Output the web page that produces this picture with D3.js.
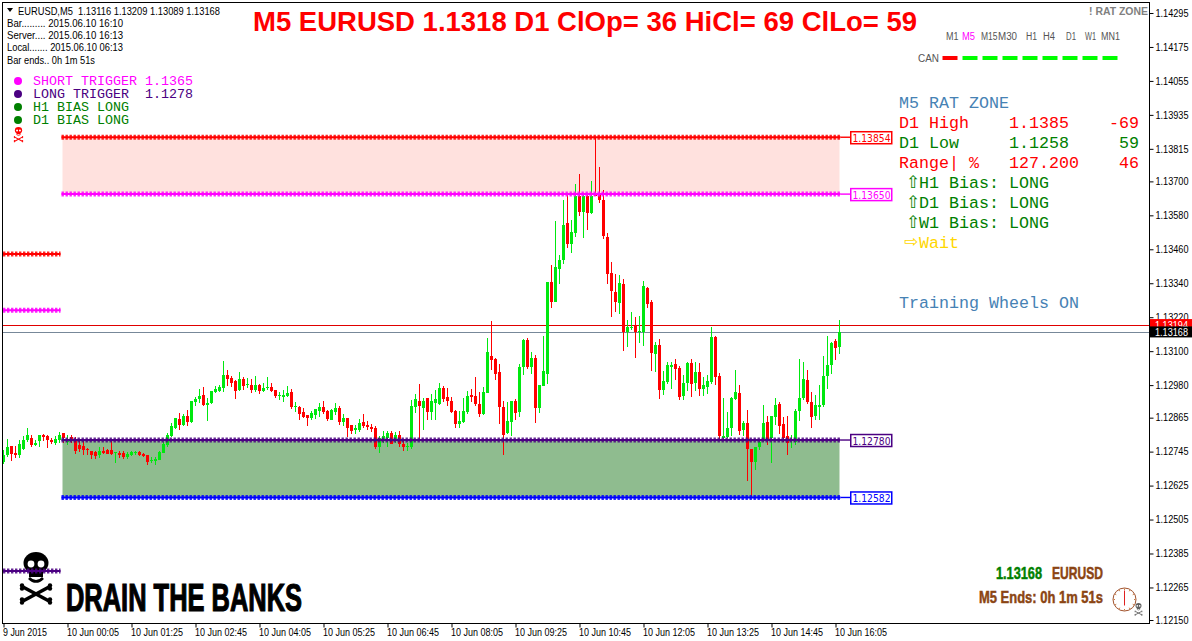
<!DOCTYPE html>
<html><head><meta charset="utf-8">
<script src="https://cdn.jsdelivr.net/npm/d3@7"></script>
<style>html,body{margin:0;padding:0;background:#fff;overflow:hidden}svg{display:block}text{white-space:pre}</style>
</head><body><svg id="c" width="1192" height="641"></svg>
<script>
// Prices in points (1e-5). One entry per 5-minute bar.
const opens=[112709,112733,112764,112741,112733,112756,112786,112793,112768,112782,
112803,112800,112786,112774,112786,112810,112780,112796,112786,112768,
112764,112754,112747,112743,112733,112747,112750,112750,112739,112740,
112740,112726,112733,112740,112743,112736,112733,112711,112711,112715,
112741,112768,112800,112828,112860,112839,112871,112850,112920,112931,
112945,112910,112917,112956,112959,112970,113016,113005,112994,112963,
113002,112980,112980,112963,112980,112959,112970,112973,112963,112941,
112938,112941,112956,112903,112903,112885,112874,112864,112874,112888,
112903,112888,112857,112885,112899,112850,112864,112839,112821,112821,
112849,112839,112832,112828,112761,112782,112793,112810,112786,112803,
112771,112761,112761,112902,112923,112899,112934,112885,112916,112913,
112969,112938,112923,112888,112842,112849,112885,112945,112941,112913,
112877,112952,113082,113072,113026,112902,112810,112849,112923,112885,
113044,113139,113044,113075,112899,112976,113019,113344,113273,113390,
113422,113552,113478,113517,113648,113591,113648,113588,113658,113655,
113634,113503,113376,113308,113270,113337,113167,113181,113188,113167,
113167,113323,113273,113089,113121,112962,112990,113043,113054,113040,
112941,112987,113058,112987,113028,112966,112973,112991,113150,113012,
112793,112796,112828,112930,112952,112821,112846,112754,112708,112761,
112786,112849,112793,112867,112913,112842,112800,112782,112779,112888,
112934,112998,112920,112870,112902,112909,113012,113051,113135,113116];
const highs=[112750,112788,112764,112764,112786,112800,112830,112803,112786,112803,
112809,112803,112794,112800,112814,112810,112803,112803,112796,112782,
112782,112759,112747,112747,112761,112761,112754,112782,112743,112747,
112747,112743,112747,112747,112747,112740,112733,112727,112727,112748,
112780,112812,112845,112864,112881,112878,112892,112924,112938,112966,
112973,112933,112959,112977,112980,113065,113033,113012,112998,113026,
113009,113005,113002,113012,112984,112987,113009,112987,112963,112956,
112963,112977,112966,112920,112906,112899,112874,112888,112895,112917,
112924,112892,112895,112917,112906,112878,112864,112839,112839,112860,
112877,112853,112842,112835,112800,112817,112817,112817,112814,112817,
112782,112775,112927,112948,112983,112934,112934,112948,112962,112987,
112976,112969,112938,112892,112888,112934,112959,112966,113008,112955,
112973,113146,113206,113075,113054,112923,112920,112923,112930,113054,
113143,113146,113097,113086,112980,113153,113344,113404,113559,113439,
113634,113651,113563,113690,113726,113655,113655,113701,113853,113750,
113669,113517,113415,113372,113369,113354,113210,113238,113220,113224,
113347,113326,113280,113132,113142,113029,113061,113061,113072,113047,
113015,113061,113072,113061,113058,113008,113015,113185,113153,113022,
112934,112885,112938,113033,112980,112853,112892,112754,112761,112786,
112909,112870,112870,112934,112920,112867,112870,112803,112895,113072,
113061,113033,112955,112945,112980,113082,113153,113132,113142,113209];
const lows=[112703,112727,112713,112721,112723,112750,112780,112762,112764,112762,
112783,112757,112772,112768,112777,112777,112770,112777,112736,112744,
112733,112733,112718,112718,112724,112736,112736,112733,112704,112722,
112718,112718,112729,112733,112729,112726,112697,112704,112697,112715,
112739,112760,112795,112826,112821,112835,112835,112846,112906,112916,
112906,112853,112913,112952,112956,112956,112977,112973,112931,112959,
112963,112970,112952,112956,112949,112956,112963,112956,112934,112927,
112920,112938,112895,112885,112857,112864,112835,112857,112860,112867,
112878,112853,112857,112874,112839,112835,112797,112807,112807,112814,
112828,112821,112814,112754,112740,112775,112761,112771,112775,112761,
112747,112747,112754,112881,112782,112821,112856,112856,112856,112909,
112920,112906,112881,112828,112828,112846,112877,112920,112906,112867,
112874,112952,113033,112998,112842,112733,112807,112800,112856,112867,
113015,113037,113019,112846,112881,112976,112983,113252,113273,113337,
113407,113464,113446,113503,113577,113499,113528,113584,113648,113623,
113496,113337,113220,113238,113231,113100,113114,113174,113075,113128,
113118,113252,113029,113026,112930,112944,112983,112966,112997,112927,
112927,112959,112939,112958,112941,112941,112948,112983,112980,112786,
112786,112793,112800,112927,112803,112800,112641,112585,112680,112750,
112779,112770,112704,112839,112807,112779,112733,112757,112768,112853,
112927,112913,112828,112856,112856,112902,112966,113019,113068,113089];
const closes=[112733,112760,112736,112734,112772,112786,112803,112768,112775,112803,
112797,112786,112779,112789,112803,112792,112783,112786,112748,112754,
112750,112750,112733,112730,112747,112740,112736,112736,112743,112733,
112726,112736,112743,112743,112733,112729,112708,112715,112718,112743,
112772,112803,112835,112864,112839,112871,112850,112924,112931,112941,
112910,112917,112959,112966,112973,113016,113002,112987,112959,113002,
112977,112984,112963,112980,112959,112970,112973,112959,112941,112945,
112945,112952,112903,112906,112878,112867,112864,112881,112895,112903,
112885,112860,112892,112899,112850,112864,112828,112817,112828,112846,
112835,112832,112824,112761,112793,112800,112810,112771,112803,112771,
112761,112764,112906,112930,112906,112923,112885,112923,112930,112969,
112930,112923,112885,112842,112853,112888,112941,112938,112913,112877,
112955,113097,113068,113019,112902,112803,112853,112923,112881,113044,
113139,113044,113075,112899,112980,113029,113344,113273,113397,113422,
113545,113478,113521,113648,113591,113648,113588,113648,113648,113634,
113506,113372,113312,113273,113340,113167,113185,113185,113167,113171,
113330,113266,113093,113121,112962,112994,113051,113051,113036,112937,
112987,113058,112983,113028,112966,112980,112994,113150,113008,112800,
112800,112828,112934,112955,112817,112846,112754,112708,112761,112779,
112846,112789,112870,112909,112835,112793,112775,112789,112888,112934,
113001,112920,112867,112909,112909,113012,113051,113128,113111,113168];

const priceTicks=[114295,114175,114055,113935,113815,113700,113580,113460,113340,113220,113100,112980,112865,112745,112625,112505,112385,112265,112150];
const timeTickIndex=[0,16,32,48,64,80,96,112,128,144,160,176,192,208];
const timeTickLabels=["9 Jun 2015","10 Jun 00:05","10 Jun 01:25","10 Jun 02:45","10 Jun 04:05","10 Jun 05:25","10 Jun 06:45","10 Jun 08:05","10 Jun 09:25","10 Jun 10:45","10 Jun 12:05","10 Jun 13:25","10 Jun 14:45","10 Jun 16:05"];
const zoneLevels=[113856,113655,112786,112583];
const zoneLabels=["1.13854","1.13650","1.12780","1.12582"];
const zoneColors=["#ff0000","#ff00ff","#4b0082","#0000ff"];
const shortLevels=[113443,113245,112323];
const shortColors=["#ff0000","#ff00ff","#4b0082"];
const askPrice=113194, bidPrice=113168;
const timeframes=["M1","M5","M15","M30","H1","H4","D1","W1","MN1"];
const canStates=["down","up","up","up","up","up","up","up","up"];

const svg=d3.select("#c");
const y=d3.scaleLinear().domain([114295,112150]).range([13,620]);
const x=d3.scaleLinear().domain([0,209]).range([3.5,839.5]);
const zoneX0=x(15)-1, zoneX1=x(209);
const SANS='"Liberation Sans",Arial,sans-serif', MONO='"Liberation Mono","Courier New",monospace', NARROW='"Liberation Sans Narrow","Liberation Sans",sans-serif';

function T(px,py,str,o={}){
  const n=svg.append("text").attr("x",px).attr("y",py).text(str)
    .attr("font-family",o.font||SANS).attr("font-size",o.size||11).attr("fill",o.fill||"#000");
  if(o.weight)n.attr("font-weight",o.weight);
  if(o.anchor)n.attr("text-anchor",o.anchor);
  if(o.len)n.attr("textLength",o.len).attr("lengthAdjust","spacingAndGlyphs");
  if(o.stroke)n.attr("stroke",o.stroke).attr("stroke-width",o.sw||.5);
  return n;
}
// skull and crossbones ornament, cx centre, top y, s scale (1 = 34px wide)
function skull(cx,top,s,c){
  const g=svg.append("g").attr("transform",`translate(${cx},${top}) scale(${s})`);
  g.append("ellipse").attr("cx",0).attr("cy",11).attr("rx",12.5).attr("ry",11).attr("fill",c);
  g.append("rect").attr("x",-7).attr("y",18).attr("width",14).attr("height",7).attr("fill",c);
  g.append("circle").attr("cx",-5).attr("cy",12).attr("r",3.4).attr("fill","#fff");
  g.append("circle").attr("cx",5).attr("cy",12).attr("r",3.4).attr("fill","#fff");
  g.append("path").attr("d","M-7 26Q0 33 7 26").attr("fill","none").attr("stroke",c).attr("stroke-width",2.6);
  [[-13,35,13,49],[13,35,-13,49]].forEach(b=>{
    g.append("line").attr("x1",b[0]).attr("y1",b[1]).attr("x2",b[2]).attr("y2",b[3]).attr("stroke",c).attr("stroke-width",3.6);
    [[b[0],b[1]],[b[2],b[3]]].forEach(e=>{
      g.append("circle").attr("cx",e[0]+(e[0]<0?-1:1)).attr("cy",e[1]-1.6).attr("r",2.2).attr("fill",c);
      g.append("circle").attr("cx",e[0]+(e[0]<0?-1:1)).attr("cy",e[1]+1.6).attr("r",2.2).attr("fill",c);
    });
  });
}

// zones
svg.append("rect").attr("x",zoneX0).attr("width",zoneX1-zoneX0).attr("y",y(zoneLevels[0])).attr("height",y(zoneLevels[1])-y(zoneLevels[0])).attr("fill","#ffe1de");
svg.append("rect").attr("x",zoneX0).attr("width",zoneX1-zoneX0).attr("y",y(zoneLevels[2])).attr("height",y(zoneLevels[3])-y(zoneLevels[2])).attr("fill","#8fbc8f");

// ask / bid lines
svg.append("line").attr("x1",3).attr("x2",1149).attr("y1",Math.round(y(askPrice))+.5).attr("y2",Math.round(y(askPrice))+.5).attr("stroke","#e00000");
svg.append("line").attr("x1",3).attr("x2",1149).attr("y1",Math.round(y(bidPrice))+.5).attr("y2",Math.round(y(bidPrice))+.5).attr("stroke","#778899");

// candles
const idx=d3.range(opens.length);
const UP="#00e80f",DN="#ff0000";
const col=i=>closes[i]>=opens[i]?UP:DN;
const g=svg.append("g");
g.selectAll(".w").data(idx).join("rect").attr("x",i=>x(i)-.5).attr("width",1)
  .attr("y",i=>Math.round(y(highs[i]))).attr("height",i=>Math.max(1,Math.round(y(lows[i]))-Math.round(y(highs[i])))).attr("fill",col);
g.selectAll(".b").data(idx).join("rect").attr("x",i=>x(i)-1.5).attr("width",3)
  .attr("y",i=>Math.round(y(Math.max(opens[i],closes[i])))).attr("height",i=>Math.max(1,Math.round(y(Math.min(opens[i],closes[i])))-Math.round(y(Math.max(opens[i],closes[i]))))).attr("fill",col);

// bottom-left ornament sits under the short dotted line
skull(36,552,1,"#000");

// dotted level lines
function dotted(x0,x1,py,c){
  svg.append("line").attr("x1",x0).attr("x2",x1).attr("y1",py).attr("y2",py).attr("stroke",c).attr("stroke-width",2);
  svg.append("line").attr("x1",x0).attr("x2",x1).attr("y1",py).attr("y2",py).attr("stroke",c).attr("stroke-width",5).attr("stroke-dasharray","2.4 1.6").attr("opacity",.85);
}
zoneLevels.forEach((l,k)=>{
  const py=y(l), c=zoneColors[k];
  dotted(zoneX0-1,zoneX1+1,py,c);
  svg.append("line").attr("x1",zoneX1+1).attr("x2",850).attr("y1",py).attr("y2",py).attr("stroke",c).attr("stroke-width",1.4);
  svg.append("rect").attr("x",850.75).attr("y",py-5.5).attr("width",41).attr("height",12).attr("fill","#fff").attr("stroke",c).attr("stroke-width",1.5);
  T(852.5,py+4.5,zoneLabels[k],{font:'"DejaVu Sans",sans-serif',size:10.5,fill:c,len:38});
});
shortLevels.forEach((l,k)=>dotted(3,x(15)-3,y(l),shortColors[k]));

// frame and axes
svg.append("rect").attr("x",2.5).attr("y",2.5).attr("width",1147).attr("height",621).attr("fill","none").attr("stroke","#000");
const ay=svg.append("g").attr("transform","translate(1149.5,0)").call(d3.axisRight(y).tickValues(priceTicks).tickSize(4).tickPadding(2).tickFormat(v=>(v/1e5).toFixed(5)));
ay.select(".domain").remove();
ay.selectAll("text").attr("font-family",SANS).attr("font-size",10).attr("fill","#000").attr("textLength",33).attr("lengthAdjust","spacingAndGlyphs");
const ax=svg.append("g").attr("transform","translate(0,623.5)").call(d3.axisBottom(x).tickValues(timeTickIndex).tickSize(4).tickFormat((d,i)=>timeTickLabels[i]));
ax.select(".domain").remove();
ax.selectAll("text").attr("font-family",SANS).attr("font-size",11).attr("fill","#000").attr("text-anchor","start").attr("dx",-1).attr("y",12.5).attr("dy",0)
  .attr("textLength",(d,i)=>i?52:44).attr("lengthAdjust","spacingAndGlyphs");

// price tags
function tag(p,bg){
  const py=y(p);
  svg.append("rect").attr("x",1150).attr("y",py-5.5).attr("width",42).attr("height",11).attr("fill",bg);
  T(1155,py+4,(p/1e5).toFixed(5),{size:10,fill:"#fff",len:33});
}
tag(askPrice,"#ff0000"); tag(bidPrice,"#000");

// title
T(253,31,"M5 EURUSD 1.1318 D1 ClOp= 36 HiCl= 69 ClLo= 59",{size:28,weight:"bold",fill:"#ff0000",len:664});

// header
svg.append("path").attr("d","M7 8L13 8L10 12Z").attr("fill","#000");
T(18,15,"EURUSD,M5  1.13116 1.13209 1.13089 1.13168",{size:11,len:202});
T(7,27,"Bar......... 2015.06.10 16:10",{size:11,len:116});
T(7,39,"Server.... 2015.06.10 16:13",{size:11,len:116});
T(7,51,"Local....... 2015.06.10 06:13",{size:11,len:116});
T(7,64,"Bar ends.. 0h 1m 51s",{size:11,len:88});

// legend
const legText=["SHORT TRIGGER 1.1365","LONG TRIGGER  1.1278","H1 BIAS LONG","D1 BIAS LONG"];
const legCol=["#ff00ff","#4b0082","#008000","#008000"];
legText.forEach((s,k)=>{
  svg.append("circle").attr("cx",18).attr("cy",81+13*k).attr("r",4).attr("fill",legCol[k]);
  T(33,85+13*k,s,{font:MONO,size:13.33,fill:legCol[k]});
});
skull(18.5,127,.29,"#ff0000");

// RAT ZONE panel
const P={font:MONO,size:16.67};
const pl=(py,s,c)=>T(899,py,s,{...P,fill:c});
pl(108,"M5 RAT ZONE","#4682b4");
pl(128,"D1 High    1.1385    -69","#ff0000");
pl(148,"D1 Low     1.1258     59","#008000");
pl(168,"Range| %   127.200    46","#ff0000");
["H1 Bias: LONG","D1 Bias: LONG","W1 Bias: LONG"].forEach((s,k)=>{
  T(919,188+20*k,s,{...P,fill:"#008000"});
  T(906,188+20*k,"\u21E7",{font:'"DejaVu Sans"',size:17,fill:"#008000"});
});
T(919,248,"Wait",{...P,fill:"#ffd700"});
T(904,247,"\u21E8",{font:'"DejaVu Sans"',size:17,fill:"#ffd700"});
pl(308,"Training Wheels ON","#4682b4");

// timeframe row
T(1089,15,"! RAT ZONE",{size:11,weight:"bold",fill:"#808080",len:59});
const tfX=d3.scalePoint().domain(timeframes).range([950,1110]);
const grey="#555";
T(946,40,"M1",{size:10,fill:grey,len:12.5});
T(962,40,"M5",{size:10,fill:"#ff00ff",len:13});
T(981,40,"M15",{size:10,fill:grey,len:16.5});
T(998,40,"M30",{size:10,fill:grey,len:19});
T(1026,40,"H1",{size:10,fill:grey,len:11});
T(1043,40,"H4",{size:10,fill:grey,len:12});
T(1066,40,"D1",{size:10,fill:grey,len:10});
T(1085,40,"W1",{size:10,fill:grey,len:11});
T(1101,40,"MN1",{size:10,fill:grey,len:19});
T(918,62,"CAN",{size:10.5,fill:grey,len:21});
svg.append("g").selectAll("rect").data(timeframes).join("rect")
  .attr("x",s=>tfX(s)-7.5).attr("y",56).attr("width",15).attr("height",4)
  .attr("fill",(s,i)=>canStates[i]==="up"?"#00ff00":"#ff0000");

// bottom-right block
T(996,579,"1.13168",{font:NARROW,size:17,weight:"bold",fill:"#008000",stroke:"#008000",sw:.5,len:46});
T(1052,579,"EURUSD",{font:NARROW,size:17,weight:"bold",fill:"#8b4513",stroke:"#8b4513",sw:.5,len:51});
T(979,603,"M5 Ends: 0h 1m 51s",{font:NARROW,size:17,weight:"bold",fill:"#8b4513",stroke:"#8b4513",sw:.5,len:124});
const cx=1124.5,cy=599.5;
svg.append("circle").attr("cx",cx).attr("cy",cy).attr("r",11.5).attr("fill","#fff").attr("stroke","#a0522d");
svg.append("g").selectAll("line").data(d3.range(12)).join("line")
  .attr("x1",a=>cx+9.5*Math.sin(a*Math.PI/6)).attr("y1",a=>cy-9.5*Math.cos(a*Math.PI/6))
  .attr("x2",a=>cx+11*Math.sin(a*Math.PI/6)).attr("y2",a=>cy-11*Math.cos(a*Math.PI/6)).attr("stroke","#c87a40");
svg.append("line").attr("x1",cx).attr("x2",cx).attr("y1",cy-9).attr("y2",cy+6).attr("stroke","#e02020");
skull(1138.5,603,.24,"#606060");

// bottom-left banner
T(66,611,"DRAIN THE BANKS",{font:NARROW,size:38,weight:"bold",fill:"#000",stroke:"#000",sw:1.2,len:236});
</script></body></html>
